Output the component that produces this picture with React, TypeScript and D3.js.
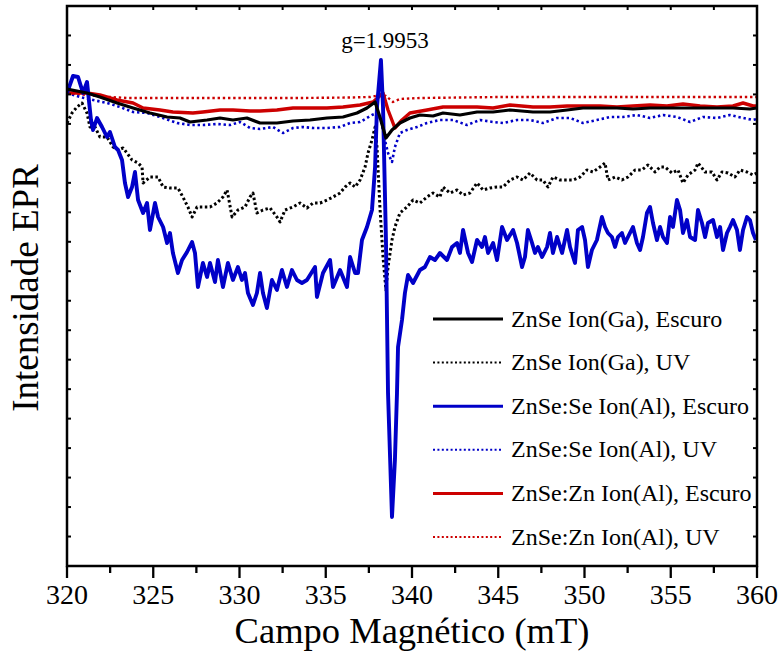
import React from "react";
import * as d3 from "d3";

// Magnetic field (mT) vs EPR intensity (a.u.)
const blackSolid: [number, number][] = [
  [320.0, 11], [321.16, 7], [321.91, 3], [322.9, -3], [323.83, -8], [324.81, -13], [325.8, -17],
  [326.55, -18], [327.13, -22], [328.12, -20], [328.87, -18], [329.62, -20], [330.43, -18],
  [331.19, -23], [332.17, -23], [333.1, -21], [334.09, -20], [335.07, -18], [336.0, -17],
  [336.81, -13], [337.39, -8], [337.86, -2], [338.14, -17], [338.49, -38], [338.84, -30],
  [339.3, -23], [339.88, -18], [340.46, -15], [341.22, -16], [341.8, -13], [342.78, -15],
  [343.77, -12], [344.7, -12], [345.68, -10], [347.01, -12], [348.0, -12], [348.99, -10],
  [349.91, -8], [350.9, -8], [351.88, -8], [352.81, -9], [353.8, -8], [354.78, -8], [355.71, -8],
  [356.7, -8], [357.68, -8], [358.61, -8], [359.59, -9], [360.0, -8],
];

const blackDotted: [number, number][] = [
  [320.0, -23], [320.29, -13], [320.58, -7], [320.87, -3], [321.16, -13], [321.33, -27], [321.62, -27],
  [321.91, -37], [322.32, -37], [322.67, -47], [322.96, -50], [323.25, -48], [323.48, -53],
  [323.77, -60], [324.12, -63], [324.35, -67], [324.41, -83], [324.81, -77], [325.28, -77],
  [325.57, -87], [325.97, -88], [326.43, -88], [326.72, -97], [327.01, -107], [327.25, -117],
  [327.54, -107], [327.88, -107], [328.29, -107], [328.7, -103], [329.04, -97], [329.28, -90],
  [329.57, -117], [329.91, -110], [330.32, -107], [330.61, -97], [330.78, -93], [331.01, -113],
  [331.36, -110], [331.77, -108], [332.17, -117], [332.35, -122], [332.64, -110], [333.1, -107],
  [333.51, -103], [333.91, -108], [334.26, -103], [334.67, -103], [335.07, -100], [335.42, -97],
  [335.83, -93], [336.12, -87], [336.41, -83], [336.7, -87], [336.99, -80], [337.28, -67],
  [337.45, -53], [337.68, -40], [337.86, -27], [337.97, -47], [338.14, -107], [338.32, -157],
  [338.49, -190], [338.61, -167], [338.84, -140], [339.01, -127], [339.3, -113], [339.71, -107],
  [340.06, -100], [340.46, -103], [340.87, -97], [341.22, -93], [341.62, -97], [341.8, -87],
  [342.2, -93], [342.61, -90], [342.96, -95], [343.36, -93], [343.77, -83], [344.12, -90],
  [344.52, -88], [344.93, -87], [345.28, -87], [345.68, -80], [346.09, -77], [346.43, -80],
  [346.84, -73], [347.25, -80], [347.59, -80], [347.88, -87], [348.17, -77], [348.58, -80],
  [348.99, -80], [349.33, -80], [349.74, -77], [350.14, -70], [350.49, -72], [350.9, -67],
  [351.19, -63], [351.36, -80], [351.77, -77], [352.17, -80], [352.52, -77], [352.93, -70],
  [353.33, -70], [353.68, -65], [354.09, -72], [354.38, -67], [354.67, -67], [355.07, -73],
  [355.42, -70], [355.71, -83], [356.0, -75], [356.41, -70], [356.58, -63], [356.99, -72],
  [357.39, -72], [357.68, -80], [357.97, -72], [358.32, -73], [358.72, -77], [359.01, -70],
  [359.42, -72], [359.77, -75], [360.0, -73],
];

const blueSolid: [number, number][] = [
  [320.0, 7], [320.35, 24], [320.64, 23], [320.93, 7], [321.16, 18], [321.39, -20], [321.51, -30],
  [321.74, -18], [322.03, -27], [322.32, -37], [322.49, -32], [322.78, -47], [322.96, -50],
  [323.19, -60], [323.36, -83], [323.54, -97], [323.77, -87], [323.94, -72], [324.12, -100],
  [324.41, -113], [324.64, -103], [324.81, -130], [325.1, -103], [325.28, -117], [325.57, -127],
  [325.8, -143], [325.97, -133], [326.14, -153], [326.43, -173], [326.67, -160], [326.96, -152],
  [327.25, -142], [327.42, -153], [327.59, -187], [327.88, -163], [328.12, -177], [328.29, -163],
  [328.58, -182], [328.75, -160], [329.04, -187], [329.33, -163], [329.62, -180], [329.91, -167],
  [330.14, -180], [330.32, -173], [330.49, -193], [330.78, -205], [331.01, -193], [331.19, -173],
  [331.36, -193], [331.59, -208], [331.88, -180], [332.17, -190], [332.46, -170], [332.75, -187],
  [333.04, -170], [333.33, -180], [333.62, -183], [333.91, -180], [334.38, -167], [334.49, -197],
  [334.84, -173], [335.25, -160], [335.42, -187], [335.83, -170], [336.23, -187], [336.41, -157],
  [336.7, -173], [336.87, -173], [337.1, -140], [337.39, -127], [337.68, -110], [337.86, -67],
  [337.97, -7], [338.2, 40], [338.32, -7], [338.49, -140], [338.61, -293], [338.84, -417],
  [339.01, -360], [339.13, -293], [339.19, -247], [339.42, -220], [339.59, -193], [339.77, -175],
  [340.06, -183], [340.46, -170], [340.75, -167], [341.04, -157], [341.33, -160], [341.62, -153],
  [342.03, -160], [342.32, -147], [342.61, -143], [342.78, -153], [342.96, -130], [343.25, -153],
  [343.48, -162], [343.77, -140], [344.06, -147], [344.23, -137], [344.41, -153], [344.7, -143],
  [344.93, -160], [345.22, -127], [345.51, -140], [345.86, -130], [346.09, -143], [346.38, -167],
  [346.55, -157], [346.72, -130], [346.96, -143], [347.13, -153], [347.3, -147], [347.54, -157],
  [347.83, -147], [348.0, -133], [348.17, -153], [348.41, -137], [348.7, -153], [348.99, -130],
  [349.16, -147], [349.45, -163], [349.62, -130], [349.86, -127], [350.03, -140], [350.2, -167],
  [350.43, -150], [350.72, -140], [351.01, -117], [351.19, -127], [351.36, -133], [351.59, -137],
  [351.77, -147], [351.94, -137], [352.17, -133], [352.35, -143], [352.52, -137], [352.81, -127],
  [353.04, -143], [353.22, -150], [353.39, -137], [353.62, -113], [353.8, -107], [353.97, -123],
  [354.2, -140], [354.38, -127], [354.55, -137], [354.78, -143], [354.96, -117], [355.13, -127],
  [355.36, -100], [355.54, -110], [355.71, -133], [355.94, -120], [356.12, -137], [356.41, -140],
  [356.58, -110], [356.81, -123], [356.99, -137], [357.16, -123], [357.45, -120], [357.68, -137],
  [357.86, -127], [358.03, -150], [358.26, -133], [358.43, -127], [358.61, -120], [358.84, -130],
  [359.01, -150], [359.19, -130], [359.42, -117], [359.59, -120], [359.77, -133], [359.94, -140],
];

const blueDotted: [number, number][] = [
  [320.0, 7], [320.75, 3], [321.51, 0], [322.32, -3], [323.07, -7], [323.83, -12], [324.64, -13],
  [325.39, -17], [326.38, -23], [327.13, -25], [327.88, -25], [328.7, -24], [329.45, -25],
  [330.03, -22], [330.61, -28], [331.19, -29], [331.94, -27], [332.52, -33], [333.1, -28],
  [333.68, -27], [334.26, -28], [335.07, -28], [335.83, -27], [336.41, -23], [336.99, -22],
  [337.68, -15], [337.97, -13], [338.2, -20], [338.43, -40], [338.61, -53], [338.84, -62],
  [339.01, -47], [339.3, -33], [339.71, -30], [340.29, -27], [340.87, -23], [341.62, -20],
  [342.38, -20], [343.19, -25], [343.94, -20], [344.7, -22], [345.28, -23], [346.09, -20],
  [346.84, -20], [347.59, -23], [348.41, -18], [349.16, -18], [349.91, -23], [350.72, -20],
  [351.48, -17], [352.23, -17], [353.04, -15], [353.8, -18], [354.55, -15], [355.36, -17],
  [356.12, -22], [356.87, -17], [357.68, -18], [358.43, -15], [359.19, -18], [359.77, -20],
  [360.0, -19],
];

const redSolid: [number, number][] = [
  [320.0, 7], [321.16, 7], [321.91, 5], [322.9, 0], [323.83, -3], [324.41, -8], [325.39, -10],
  [326.14, -12], [327.3, -13], [327.88, -12], [328.87, -10], [329.62, -10], [330.61, -11],
  [331.19, -11], [332.17, -10], [333.1, -8], [334.09, -8], [335.07, -8], [336.0, -7], [336.99, -5],
  [337.74, -2], [338.32, 7], [338.61, -10], [339.01, -28], [339.42, -20], [339.88, -13],
  [340.87, -10], [341.8, -7], [342.78, -7], [343.77, -7], [344.7, -8], [345.68, -5], [347.01, -7],
  [348.0, -7], [348.99, -6], [349.91, -6], [350.9, -6], [351.88, -7], [352.81, -6], [353.8, -5],
  [354.78, -6], [355.71, -4], [356.7, -6], [357.68, -7], [358.61, -6], [359.19, -3], [359.77, -6],
  [360.0, -6],
];

const redDotted: [number, number][] = [
  [320.0, 7], [321.16, 5], [322.49, 3], [323.48, 2], [325.39, 2], [327.71, 2], [330.61, 2],
  [333.51, 2], [336.41, 2.5], [337.57, 3], [338.14, 5], [338.49, 4], [338.9, -2], [339.3, 1],
  [340.46, 2], [345.1, 3], [350.9, 3], [356.7, 3], [360.0, 3],
];

const xTicks = [320, 325, 330, 335, 340, 345, 350, 355, 360];
const legendLabels = [
  "ZnSe Ion(Ga), Escuro",
  "ZnSe Ion(Ga), UV",
  "ZnSe:Se Ion(Al), Escuro",
  "ZnSe:Se Ion(Al), UV",
  "ZnSe:Zn Ion(Al), Escuro",
  "ZnSe:Zn Ion(Al), UV",
];
const annotation = "g=1.9953";
const xTitle = "Campo Magnético (mT)";
const yTitle = "Intensidade EPR";

const SERIF = "Liberation Serif";
const BLUE = "#0000c8";
const RED = "#cc0000";

export default function App() {
  const W = 778, H = 654;
  const m = { left: 67, right: 757, top: 6, bottom: 566 };
  const x = d3.scaleLinear().domain([320, 360]).range([m.left, m.right]);
  const y = d3.scaleLinear().domain([-466, 94]).range([m.bottom, m.top]);
  const line = d3.line<[number, number]>().x((d) => x(d[0])).y((d) => y(d[1]));

  const series = [
    { data: blackSolid, color: "#000", width: 3.2, dash: undefined as string | undefined, legendW: 3, legendDash: undefined as string | undefined },
    { data: blackDotted, color: "#000", width: 3, dash: "2.5 2.5", legendW: 2, legendDash: "2 2.4" },
    { data: blueSolid, color: BLUE, width: 3.9, dash: undefined, legendW: 3, legendDash: undefined },
    { data: blueDotted, color: BLUE, width: 2.6, dash: "2.4 2.8", legendW: 2, legendDash: "2 2.4" },
    { data: redSolid, color: RED, width: 3.4, dash: undefined, legendW: 3, legendDash: undefined },
    { data: redDotted, color: RED, width: 2.4, dash: "2.4 2.8", legendW: 2, legendDash: "2 2.4" },
  ];
  const drawOrder = [5, 3, 4, 1, 2, 0];

  const minorX = d3.range(320, 360.01, 2.5);
  const yTicks = d3.range(0, 20).map((i) => m.bottom - (i * (m.bottom - m.top)) / 19);

  return (
    <svg width={W} height={H} style={{ position: "absolute", left: 0, top: 0, background: "#fff" }}>
      <defs>
        <clipPath id="plotclip">
          <rect x={m.left} y={m.top} width={m.right - m.left} height={m.bottom - m.top} />
        </clipPath>
      </defs>
      <g clipPath="url(#plotclip)">
        {drawOrder.map((i) => {
          const s = series[i];
          return (
            <path key={i} d={line(s.data) || ""} fill="none" stroke={s.color} strokeWidth={s.width}
              strokeDasharray={s.dash} strokeLinejoin="round" />
          );
        })}
      </g>
      <rect x={m.left} y={m.top} width={m.right - m.left} height={m.bottom - m.top} fill="none" stroke="#000" strokeWidth={2.5} />
      {minorX.map((v, i) => {
        const major = Math.abs(v % 5) < 1e-6;
        return (
          <g key={"bx" + i}>
            <line x1={x(v)} x2={x(v)} y1={m.bottom} y2={m.bottom + (major ? 12 : 7)} stroke="#000" strokeWidth={2.3} />
            <line x1={x(v)} x2={x(v)} y1={m.top} y2={m.top + 4} stroke="#000" strokeWidth={2} />
          </g>
        );
      })}
      {xTicks.map((v) => (
        <text key={"xt" + v} x={x(v)} y={604} textAnchor="middle" fontSize={28} fontFamily={SERIF} style={{ fontFamily: SERIF }}>{v}</text>
      ))}
      {yTicks.map((py, i) => (
        <g key={"yt" + i}>
          <line x1={m.left} x2={m.left + 4} y1={py} y2={py} stroke="#000" strokeWidth={2} />
          <line x1={m.right} x2={m.right - 4} y1={py} y2={py} stroke="#000" strokeWidth={2} />
        </g>
      ))}
      <text x={412} y={643} textAnchor="middle" fontSize={36.5} fontFamily={SERIF} style={{ fontFamily: SERIF }}>{xTitle}</text>
      <text transform="translate(38, 288) rotate(-90)" textAnchor="middle" fontSize={37} fontFamily={SERIF} style={{ fontFamily: SERIF }}>{yTitle}</text>
      <text x={385} y={48} textAnchor="middle" fontSize={23} fontFamily={SERIF} style={{ fontFamily: SERIF }}>{annotation}</text>
      {legendLabels.map((lab, i) => {
        const cy = 319 + i * 43.6;
        const s = series[i];
        return (
          <g key={"lg" + i}>
            <line x1={433} x2={503} y1={cy} y2={cy} stroke={s.color} strokeWidth={s.legendW} strokeDasharray={s.legendDash} />
            <text x={511} y={cy + 7.5} fontSize={24} fontFamily={SERIF} style={{ fontFamily: SERIF }}>{lab}</text>
          </g>
        );
      })}
    </svg>
  );
}
